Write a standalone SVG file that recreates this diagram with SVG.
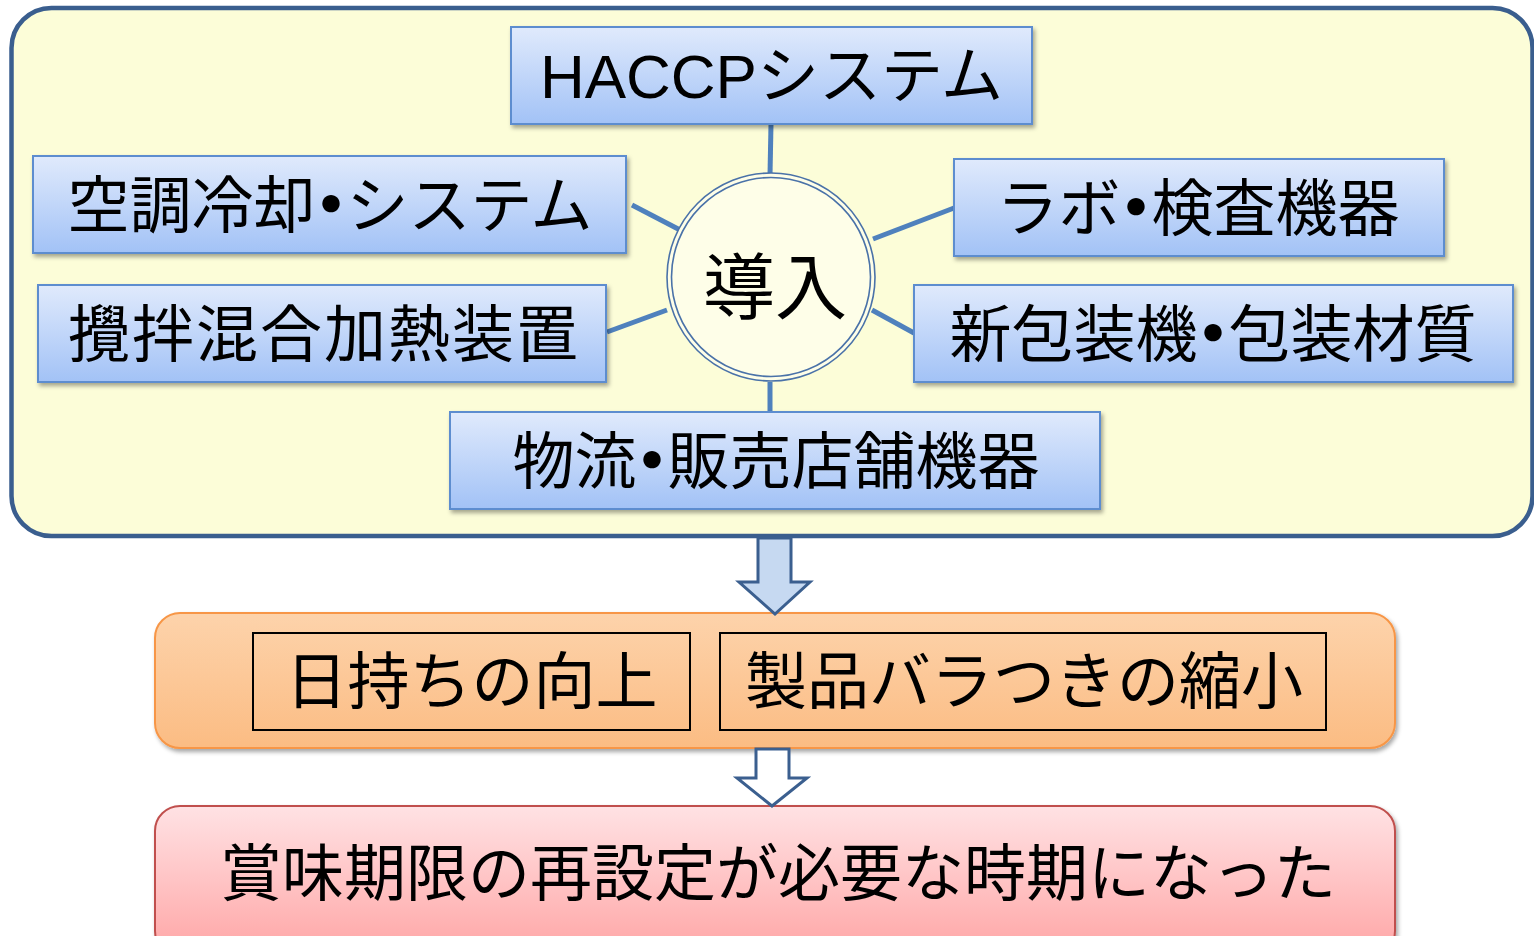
<svg xmlns="http://www.w3.org/2000/svg" width="1534" height="936" viewBox="0 0 1534 936">
<defs>
<linearGradient id="gBlue" x1="0" y1="0" x2="0" y2="1">
<stop offset="0" stop-color="#e0eafc"/>
<stop offset="1" stop-color="#a2c2f6"/>
</linearGradient>
<linearGradient id="gOrange" x1="0" y1="0" x2="0" y2="1">
<stop offset="0" stop-color="#fdd3ab"/>
<stop offset="1" stop-color="#fbbc83"/>
</linearGradient>
<linearGradient id="gPink" x1="0" y1="0" x2="0" y2="1">
<stop offset="0" stop-color="#ffe2e4"/>
<stop offset="1" stop-color="#ffa5a5"/>
</linearGradient>
<filter id="shadow" x="-10%" y="-20%" width="120%" height="150%">
<feDropShadow dx="2" dy="3" stdDeviation="2" flood-color="#000" flood-opacity="0.35"/>
</filter>
</defs>
<style>
.box{fill:url(#gBlue);stroke:#5d8dcf;stroke-width:2;filter:url(#shadow)}
.t{font-family:"Liberation Sans","Noto Sans CJK JP",sans-serif;font-size:62px;font-weight:400;fill:#000;text-anchor:middle}
.h{font-feature-settings:"halt";font-weight:900}
.link{stroke:#4f81bd;stroke-width:5;fill:none}
.arrow{stroke:#3b5f8f;stroke-width:3;stroke-linejoin:miter}
.inner{fill:none;stroke:#000;stroke-width:2}
</style>
<rect width="1534" height="936" fill="#ffffff"/>
<g id="frame">
<rect x="11.5" y="8" width="1521" height="528" rx="40" ry="40" fill="#fcfdd8" stroke="#3a5e8e" stroke-width="4.5"/>
</g>
<g id="connectors">
<line class="link" x1="771" y1="124" x2="770" y2="175"/>
<line class="link" x1="632" y1="205" x2="682" y2="231"/>
<line class="link" x1="873" y1="239" x2="954" y2="208"/>
<line class="link" x1="607" y1="332" x2="667" y2="310"/>
<line class="link" x1="872" y1="310" x2="914" y2="333"/>
<line class="link" x1="770" y1="382" x2="770" y2="412"/>
</g>
<g id="hub">
<circle cx="771" cy="277" r="104" fill="#fefee8" stroke="#4a72a8" stroke-width="1.6"/>
<circle cx="771" cy="277" r="99.5" fill="none" stroke="#4a72a8" stroke-width="1.6"/>
<text class="t" x="775" y="313" style="font-size:72px">導入</text>
</g>
<g id="haccp">
<rect class="box" x="511" y="27" width="521" height="97"/>
<text class="t" x="771.5" y="98">HACCPシステム</text>
</g>
<g id="aircon">
<rect class="box" x="33" y="156" width="593" height="97"/>
<text class="t" x="330" y="228">空調冷却<tspan class="h">・</tspan>システム</text>
</g>
<g id="mixer">
<rect class="box" x="38" y="285" width="568" height="97"/>
<text class="t" x="324" y="357" letter-spacing="2">攪拌混合加熱装置</text>
</g>
<g id="lab">
<rect class="box" x="954" y="159" width="490" height="97"/>
<text class="t" x="1198" y="231">ラボ<tspan class="h">・</tspan>検査機器</text>
</g>
<g id="packaging">
<rect class="box" x="914" y="285" width="599" height="97"/>
<text class="t" x="1213" y="357">新包装機<tspan class="h">・</tspan>包装材質</text>
</g>
<g id="logistics">
<rect class="box" x="450" y="412" width="650" height="97"/>
<text class="t" x="776" y="484">物流<tspan class="h">・</tspan>販売店舗機器</text>
</g>
<g id="effects">
<rect x="155" y="613" width="1240" height="135" rx="25" ry="25" fill="url(#gOrange)" stroke="#f79646" stroke-width="2" filter="url(#shadow)"/>
<rect class="inner" x="253" y="633" width="437" height="97"/>
<text class="t" x="471.5" y="704">日持ちの向上</text>
<rect class="inner" x="720" y="633" width="606" height="97"/>
<text class="t" x="1024" y="704">製品バラつきの縮小</text>
</g>
<g id="result">
<rect x="155" y="806" width="1240" height="150" rx="25" ry="25" fill="url(#gPink)" stroke="#c0504d" stroke-width="2" filter="url(#shadow)"/>
<text class="t" x="778" y="896">賞味期限の再設定が必要な時期になった</text>
</g>
<g id="flow-arrows">
<polygon class="arrow" fill="#c6d9f1" points="758,538 791,538 791,582 810,582 775,614 739,582 758,582"/>
<polygon class="arrow" fill="#ffffff" points="756,749 789,749 789,778 807,778 772,806 737,778 756,778"/>
</g>
</svg>
